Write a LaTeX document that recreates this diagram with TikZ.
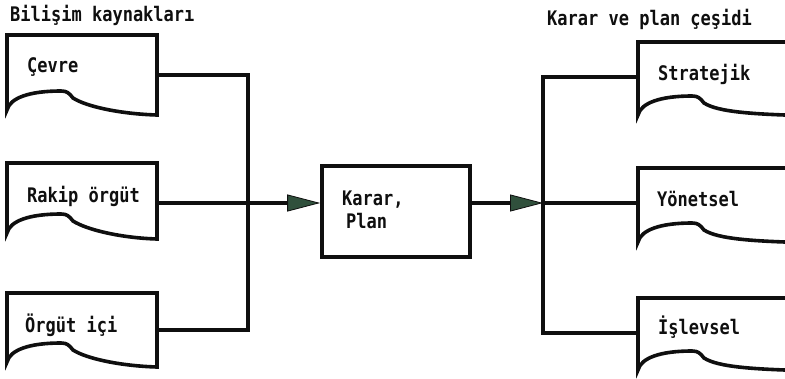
\documentclass[tikz,border=0pt]{standalone}
\usepackage{fontspec}
\usepackage{graphicx}
\setmainfont{DejaVu Sans Mono}
\usetikzlibrary{arrows.meta}

\definecolor{inkblack}{RGB}{15,15,15}
\definecolor{tipgreen}{RGB}{48,80,60}

% taller lettering
\newcommand\tall[1]{\scalebox{1}[1.18]{#1}}

% document symbol: top-left (x0,y0), wave low point on the left at yb,
% right edge at xr with its bottom at ybr
\newcommand\docpath[5]{%
  \draw[docline] (#1,#2) -- (#4,#2) -- (#4,#5)
    .. controls ({#1+115},{#5-1}) and ({#1+80},{#3-3}) .. ({#1+66},{#3-12})
    .. controls ({#1+62},{#3-17}) and ({#1+60},{#3-19}) .. ({#1+54},{#3-19})
    .. controls ({#1+22},{#3-19}) and ({#1+3},{#3-12}) .. (#1,#3) -- cycle;}

\begin{document}
\begin{tikzpicture}[x=1pt,y=-1pt,
  docline/.style={draw=inkblack,line width=3.6pt},
  conn/.style={draw=inkblack,line width=3.4pt},
  flowarrow/.style={conn,-{Triangle[length=33pt,width=17pt,line width=0.8pt,fill=tipgreen]}},
  slot/.style={inner sep=0pt,outer sep=0pt,minimum width=150pt},
  lbl/.style={inner sep=0pt,text=inkblack,font=\bfseries\fontsize{17}{20}\selectfont},
  boxed/.style={draw=inkblack,line width=3.6pt,inner sep=0pt,minimum width=148pt,minimum height=91pt}]

\useasboundingbox (0,0) rectangle (785,378);
\fill[white] (0,0) rectangle (785,378);

% headings
\node[lbl,anchor=base west] (titleL) at (10,21) {\tall{Bilişim kaynakları}};
\node[lbl,anchor=base west] (titleR) at (547,25) {\tall{Karar ve plan çeşidi}};

% information sources (left)
\docpath{7}{35}{110}{157}{115}
\docpath{7}{163}{233}{157}{239}
\docpath{7}{293}{362}{157}{367}
\node[slot,minimum height=80pt] (cevre) at (82,75) {};
\node[slot,minimum height=76pt] (rakip) at (82,203) {};
\node[slot,minimum height=74pt] (orgut) at (82,330) {};
\node[lbl,anchor=base west] (tcevre) at (27,72) {\tall{Çevre}};
\node[lbl,anchor=base west] (trakip) at (27,202) {\tall{Rakip örgüt}};
\node[lbl,anchor=base west] (torgut) at (25,332) {\tall{Örgüt içi}};

% decision / plan box
\node[boxed] (karar) at (396,211.5) {};
\node[lbl,anchor=base west] (tkarar) at (342,205) {\tall{Karar,}};
\node[lbl,anchor=base west] (tplan) at (346,228) {\tall{Plan}};

% decision and plan types (right), cut off by the right margin
\begin{scope}
  \clip (0,0) rectangle (785,378);
  \docpath{638}{42}{115}{830}{116}
  \docpath{638}{168}{242}{830}{243}
  \docpath{638}{298}{370}{830}{371}
\end{scope}
\node[slot,minimum width=140pt,minimum height=70pt,anchor=west] (strat) at (638,77) {};
\node[slot,minimum width=140pt,minimum height=70pt,anchor=west] (yonet) at (638,203) {};
\node[slot,minimum width=140pt,minimum height=70pt,anchor=west] (islev) at (638,333) {};
\node[lbl,anchor=base west] (tstrat) at (658,80) {\tall{Stratejik}};
\node[lbl,anchor=base west] (tyonet) at (657,206) {\tall{Yönetsel}};
\node[lbl,anchor=base west] (tislev) at (658,334) {\tall{İşlevsel}};

% connectors
\coordinate (jl) at (248,203);
\coordinate (jr) at (543,203);
\draw[conn] (cevre.east) -| (jl) |- (orgut.east);
\draw[flowarrow] (rakip.east) -- (rakip.east -| karar.west);
\draw[flowarrow] (karar.east |- jr) -- (jr);
\draw[conn] (strat.west) -| (jr) |- (islev.west);
\draw[conn] (jr) -- (yonet.west);
\end{tikzpicture}
\end{document}
